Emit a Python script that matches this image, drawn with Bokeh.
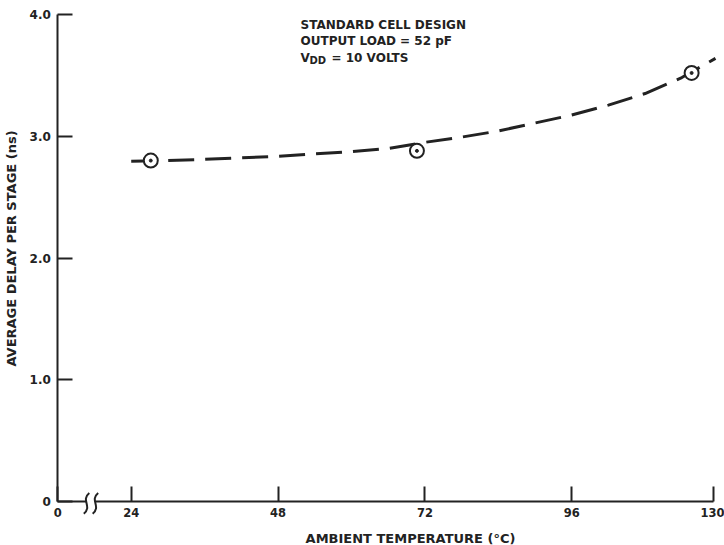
from math import pi
from bokeh.plotting import figure
from bokeh.models import Range1d, LinearAxis, FixedTicker, Label, ColumnDataSource
from bokeh.embed import file_html
from bokeh.resources import INLINE

# ---- data (temperature axis is broken: "0" sits left of the break,
#      "130" is printed at the last division) ----
x_tick_pos = [12, 24, 48, 72, 96, 119.2]
x_tick_labels = ["0", "24", "48", "72", "96", "130"]
y_tick_pos = [0, 1, 2, 3, 4]
y_tick_labels = ["0", "1.0", "2.0", "3.0", "4.0"]

meas_temp = [27.2, 70.7, 115.6]
meas_delay = [2.80, 2.88, 3.52]

curve_temp = [24, 30, 36, 42, 48, 54, 60, 66, 72, 78, 84, 90, 96, 102, 108, 114, 119.5]
curve_delay = [2.795, 2.80, 2.81, 2.823, 2.836, 2.855, 2.874, 2.90, 2.95, 2.993,
               3.043, 3.109, 3.174, 3.256, 3.351, 3.482, 3.64]

break_pos = [16.7, 18.15]

notes = ["STANDARD CELL DESIGN", "OUTPUT LOAD = 52 pF"]

INK = "#222222"
FONT = "DejaVu Sans"

# pixel helpers for text placement
def dx(px):
    return 12 + (px - 57.3) / 6.118

def dy(py):
    return (501 - py) / 121.75

p = figure(width=724, height=545,
           x_range=Range1d(dx(0), dx(724)), y_range=Range1d(dy(545), dy(0)),
           x_axis_type=None, y_axis_type=None,
           output_backend="svg", toolbar_location=None,
           min_border_left=0, min_border_right=0,
           min_border_top=0, min_border_bottom=0)
p.outline_line_color = None
p.grid.visible = False
p.background_fill_color = "white"
p.border_fill_color = "white"

xaxis = LinearAxis(fixed_location=0, bounds=(x_tick_pos[0], x_tick_pos[-1]),
                   ticker=FixedTicker(ticks=x_tick_pos),
                   major_label_overrides={t: l for t, l in zip(x_tick_pos, x_tick_labels)})
yaxis = LinearAxis(fixed_location=x_tick_pos[0], bounds=(y_tick_pos[0], y_tick_pos[-1]),
                   ticker=FixedTicker(ticks=y_tick_pos),
                   major_label_overrides={t: l for t, l in zip(y_tick_pos, y_tick_labels)})
for ax in (xaxis, yaxis):
    ax.axis_line_color = INK
    ax.axis_line_width = 2
    ax.major_tick_line_color = INK
    ax.major_tick_line_width = 2
    ax.major_tick_in = 15
    ax.major_tick_out = 0
    ax.minor_tick_line_color = None
    ax.major_label_text_font = FONT
    ax.major_label_text_font_style = "bold"
    ax.major_label_text_color = INK
xaxis.major_label_text_font_size = "11.5px"
yaxis.major_label_text_font_size = "12px"
xaxis.major_label_standoff = 6
yaxis.major_label_standoff = 7
p.add_layout(xaxis, "below")
p.add_layout(yaxis, "left")

# axis break on the temperature axis
cover = p.quad(left=[break_pos[0]], right=[break_pos[1]], bottom=[-0.03], top=[0.03],
               fill_color="white", line_color=None)
cover.level = "overlay"
bz = ColumnDataSource(dict(
    x0=[b + 0.45 for b in break_pos], y0=[0.07] * 2,
    x1=[b - 0.45 for b in break_pos], y1=[-0.10] * 2,
    cx0=[b - 1.0 for b in break_pos], cy0=[0.01] * 2,
    cx1=[b + 1.0 for b in break_pos], cy1=[-0.04] * 2))
sq = p.bezier(x0="x0", y0="y0", x1="x1", y1="y1", cx0="cx0", cy0="cy0",
              cx1="cx1", cy1="cy1", source=bz, line_color=INK, line_width=2)
sq.level = "overlay"

# fitted dashed curve
p.line(curve_temp, curve_delay, line_color=INK, line_width=3, line_dash="26 11")

# measured points
p.scatter(meas_temp, meas_delay, marker="circle", size=14, fill_color="white",
          line_color=INK, line_width=2)
p.scatter(meas_temp, meas_delay, marker="circle", size=3, fill_color=INK, line_color=INK)

# axis titles
p.add_layout(Label(x=dx(410), y=dy(538), text="AMBIENT TEMPERATURE (°C)",
                   text_align="center", text_baseline="middle",
                   text_font=FONT, text_font_style="bold", text_font_size="13px",
                   text_color=INK))
p.add_layout(Label(x=dx(11), y=dy(248), text="AVERAGE DELAY PER STAGE (ns)",
                   angle=pi / 2, text_align="center", text_baseline="middle",
                   text_font=FONT, text_font_style="bold", text_font_size="13px",
                   text_color=INK))

# notes
for txt, base in zip(notes, [24, 40]):
    p.add_layout(Label(x=dx(300), y=dy(base), text=txt, text_align="left",
                       text_baseline="alphabetic", text_font=FONT, text_font_style="bold",
                       text_font_size="12px", text_color=INK))
p.add_layout(Label(x=dx(300), y=dy(57), text="V", text_align="left",
                   text_baseline="alphabetic", text_font=FONT, text_font_style="bold",
                   text_font_size="12px", text_color=INK))
p.add_layout(Label(x=dx(309), y=dy(60), text="DD", text_align="left",
                   text_baseline="alphabetic", text_font=FONT, text_font_style="bold",
                   text_font_size="10px", text_color=INK))
p.add_layout(Label(x=dx(331), y=dy(57), text="= 10 VOLTS", text_align="left",
                   text_baseline="alphabetic", text_font=FONT, text_font_style="bold",
                   text_font_size="12px", text_color=INK))

open("out.html", "w").write(file_html(p, INLINE))
